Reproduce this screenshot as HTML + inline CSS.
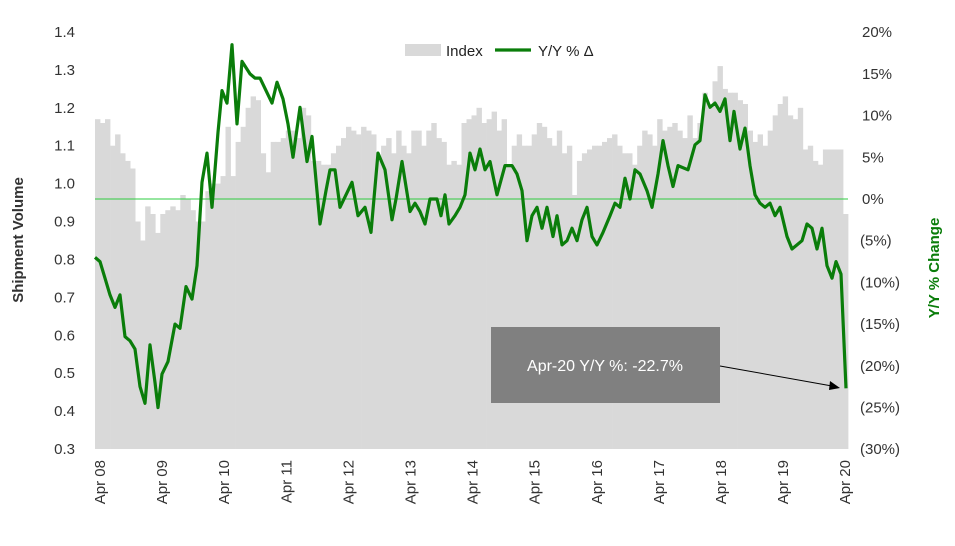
<!DOCTYPE html>
<html><head><meta charset="utf-8"><style>
body{margin:0;background:#fff}
svg{display:block;font-family:"Liberation Sans",Arial,sans-serif}
</style></head><body>
<svg id="c" width="955" height="546" viewBox="0 0 955 546" xmlns="http://www.w3.org/2000/svg">
<g id="bars" fill="#d9d9d9"></g>
<line x1="95" y1="199" x2="848" y2="199" stroke="#2ecc40" stroke-width="1"/>
<polyline id="ln" fill="none" stroke="#0a7d0a" stroke-width="3.2" stroke-linejoin="round"/>
<g id="lt" font-size="15" fill="#333" text-anchor="end"></g>
<g id="rt" font-size="15" fill="#333"></g>
<g id="xt" font-size="15" fill="#333"></g>
<text transform="translate(23,240) rotate(-90)" text-anchor="middle" font-size="15" font-weight="bold" fill="#333">Shipment Volume</text>
<text transform="translate(939,268) rotate(-90)" text-anchor="middle" font-size="15" font-weight="bold" fill="#0a7d0a">Y/Y % Change</text>
<rect x="405" y="44" width="36" height="12" fill="#d9d9d9"/>
<text x="446" y="56" font-size="15" fill="#222">Index</text>
<line x1="495" y1="50" x2="531" y2="50" stroke="#0a7d0a" stroke-width="3.2"/>
<text x="538" y="56" font-size="15" fill="#222">Y/Y % Δ</text>
<rect x="491" y="327" width="229" height="76" fill="#808080"/>
<text x="605" y="371" text-anchor="middle" font-size="16" fill="#fff">Apr-20 Y/Y %: -22.7%</text>
<line x1="720" y1="366" x2="832" y2="386" stroke="#000" stroke-width="1"/>
<polygon points="840,388 830,381 829,390" fill="#000"/>
</svg>
<script>
var idx=[1.17,1.16,1.17,1.10,1.13,1.08,1.06,1.04,0.90,0.85,0.94,0.92,0.87,0.92,0.93,0.94,0.93,0.97,0.96,0.93,0.90,0.90,0.98,1.00,1.00,1.02,1.15,1.02,1.11,1.15,1.20,1.23,1.22,1.08,1.03,1.11,1.11,1.12,1.14,1.14,1.12,1.20,1.18,1.06,1.06,1.05,1.05,1.08,1.10,1.12,1.15,1.14,1.13,1.15,1.14,1.13,1.06,1.10,1.12,1.08,1.14,1.10,1.08,1.14,1.14,1.10,1.14,1.16,1.12,1.11,1.05,1.06,1.05,1.16,1.17,1.18,1.20,1.16,1.17,1.19,1.14,1.17,1.05,1.10,1.13,1.10,1.10,1.13,1.16,1.15,1.12,1.10,1.14,1.08,1.10,0.97,1.06,1.08,1.09,1.10,1.10,1.11,1.12,1.13,1.10,1.08,1.08,1.05,1.10,1.14,1.13,1.10,1.17,1.14,1.15,1.16,1.14,1.12,1.18,1.12,1.16,1.24,1.20,1.27,1.31,1.25,1.24,1.24,1.22,1.21,1.14,1.11,1.13,1.10,1.14,1.18,1.21,1.23,1.18,1.17,1.20,1.09,1.10,1.06,1.05,1.09,1.09,1.09,1.09,0.92];
var NS="http://www.w3.org/2000/svg";
function yl(v){return 32+(1.4-v)*379.1}
function yr(p){return 199-p*8.34}
var b=document.getElementById('bars'),h='';
var w=753/idx.length;
idx.forEach(function(v,i){var x=95+i*w;h+='<rect x="'+x.toFixed(1)+'" y="'+yl(v).toFixed(1)+'" width="'+(w+0.4).toFixed(1)+'" height="'+(449-yl(v)).toFixed(1)+'"/>';});
b.innerHTML=h;
var L=[[95,-7],[100,-7.5],[105,-9.5],[110,-11.5],[115,-13],[120,-11.5],[125,-16.5],[130,-17],[135,-18],[140,-22.5],[145,-24.5],[150,-17.5],[155,-22],[158,-25],[162,-21],[168,-19.5],[175,-15],[180,-15.5],[186,-10.5],[192,-12],[197,-8],[202,2],[207,5.5],[212,-1],[218,8],[222,13],[227,11.5],[232,18.5],[237,9],[242,16.5],[250,15],[255,14.5],[260,14.5],[266,13],[272,11.5],[277,14],[283,12],[288,9],[293,5],[300,11],[307,4.5],[312,7.5],[320,-3],[326,1],[330,3.5],[335,3.5],[340,-1],[346,0.5],[352,2],[358,-2],[365,-1],[371,-4],[378,5.5],[385,3.5],[392,-2.5],[396,0],[402,4.5],[410,-1.5],[415,-0.5],[420,-1.5],[425,-3],[430,0],[437,0],[441,-2],[445,0.5],[449,-3],[455,-2],[460,-1],[465,0.5],[470,5.5],[475,3.5],[480,6],[485,3.5],[490,4.5],[497,0.5],[505,4],[512,4],[517,3],[522,1],[527,-5],[532,-2],[537,-1],[542,-3.5],[547,-1],[553,-4.5],[557,-2],[562,-5.5],[567,-5],[572,-3.5],[577,-5],[582,-2.5],[587,-1],[592,-4.5],[597,-5.5],[603,-4],[610,-2],[615,-0.5],[620,-1],[625,2.5],[630,0],[635,3.5],[640,3],[647,1],[652,-1],[658,3],[663,7],[668,4],[673,1.5],[678,4],[688,3.5],[695,6.5],[700,7],[705,12.5],[710,11],[715,11.5],[720,10.5],[725,12],[730,7],[734,10.5],[740,6],[745,8.5],[750,4],[755,0.5],[760,-0.5],[765,-1],[770,-0.5],[775,-2],[780,-1],[787,-4.5],[792,-6],[797,-5.5],[802,-5],[807,-3],[812,-3.5],[817,-6],[822,-3.5],[827,-8],[832,-9.5],[836,-7.5],[841,-9],[846,-22.7]];
document.getElementById('ln').setAttribute('points',L.map(function(p){return p[0]+','+yr(p[1]).toFixed(1)}).join(' '));
var lt='';for(var i=0;i<=11;i++){var v=0.3+i*0.1;lt+='<text x="75" y="'+(yl(v)+5).toFixed(1)+'">'+v.toFixed(1)+'</text>';}
document.getElementById('lt').innerHTML=lt;
var rt='';for(var p=20;p>=-30;p-=5){var s=p>0?p+'%':p==0?'0%':'('+(-p)+'%)';rt+='<text x="'+(p<0?860:862)+'" y="'+(yr(p)+5).toFixed(1)+'">'+s+'</text>';}
document.getElementById('rt').innerHTML=rt;
var xt='';for(var k=0;k<=12;k++){var x=100+k*62.1;var yy=('0'+(8+k)).slice(-2);xt+='<text transform="translate('+(x+5).toFixed(1)+',460) rotate(-90)" text-anchor="end">Apr '+yy+'</text>';}
document.getElementById('xt').innerHTML=xt;
</script>
</body></html>
